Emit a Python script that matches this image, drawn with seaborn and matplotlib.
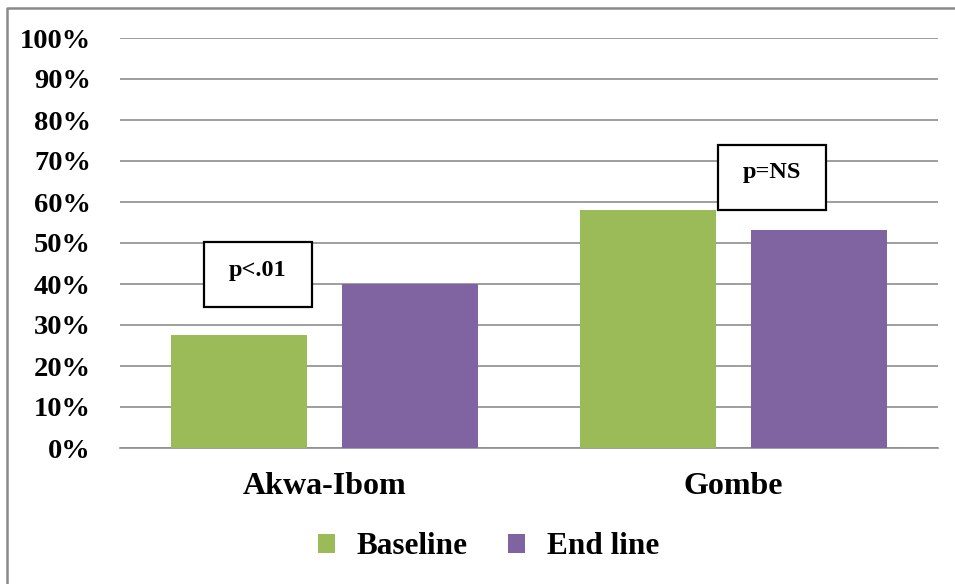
import matplotlib
matplotlib.use("Agg")
import matplotlib.pyplot as plt
from matplotlib.lines import Line2D
from matplotlib.patches import Rectangle
import seaborn as sns
import pandas as pd

# Proportions by state, before and after the intervention
regions = ["Akwa-Ibom", "Gombe"]
series_names = ["Baseline", "End line"]
baseline = [0.275, 0.58]
endline = [0.40, 0.532]
p_labels = ["p<.01", "p=NS"]
ytick_values = [i / 10 for i in range(11)]
ytick_labels = [f"{i * 10}%" for i in range(11)]

colors = ["#9BBB59", "#8064A2"]
grid_color = "#8E8E8E"

sns.set_theme(style="white")
plt.rcParams["font.family"] = ["Liberation Serif", "DejaVu Serif"]
plt.rcParams["font.weight"] = "bold"
plt.rcParams["text.color"] = "black"

df = pd.DataFrame({
    "region": regions * 2,
    "series": [series_names[0]] * len(regions) + [series_names[1]] * len(regions),
    "value": baseline + endline,
})

W, H = 955, 584
fig = plt.figure(figsize=(W / 100, H / 100), dpi=100)
ax = fig.add_axes([120 / W, 136 / H, 818 / W, 410 / H])

sns.barplot(data=df, x="region", y="value", hue="series", hue_order=series_names,
            palette=colors, saturation=1, width=0.836, gap=0.2,
            linewidth=0, ax=ax, zorder=3, errorbar=None)

ax.set_xlim(-0.5, 1.5)
ax.set_ylim(0, 1)
ax.set_yticks(ytick_values)
ax.set_yticklabels(ytick_labels)
ax.set_xlabel("")
ax.set_ylabel("")
ax.yaxis.grid(True, color=grid_color, linewidth=1.2, zorder=0)
ax.set_axisbelow(True)
for side in ["top", "right", "left"]:
    ax.spines[side].set_visible(False)
ax.spines["bottom"].set_color(grid_color)
ax.spines["bottom"].set_linewidth(1.2)
ax.tick_params(axis="y", length=0, pad=21, labelsize=20.5)
ax.tick_params(axis="x", length=0, pad=17, labelsize=23)
for lbl in ax.get_xticklabels() + ax.get_yticklabels():
    lbl.set_fontweight("bold")
    lbl.set_color("black")

# significance boxes: (x0, x1, y0, y1) and text centre (x, y)
boxes = [(-0.2946, -0.0306, 0.344, 0.502), (0.962, 1.226, 0.580, 0.739)]
text_pos = [(-0.1626, 0.434), (1.094, 0.672)]
for (x0, x1, y0, y1), (tx, ty), lab in zip(boxes, text_pos, p_labels):
    ax.add_patch(Rectangle((x0, y0), x1 - x0, y1 - y0, facecolor="white",
                           edgecolor="black", linewidth=1.6, zorder=5))
    ax.text(tx, ty, lab, ha="center", va="center", fontsize=17.5,
            fontweight="bold", color="black", zorder=6)

sns.move_legend(ax, "center", bbox_to_anchor=(488.5 / W, 37 / H),
                bbox_transform=fig.transFigure, ncol=2, frameon=False,
                title=None, prop={"size": 22.5, "weight": "bold"},
                handlelength=0.55, handleheight=0.55, handletextpad=0.7,
                columnspacing=1.3)
for t in ax.get_legend().get_texts():
    t.set_color("black")

# chart frame
fig.add_artist(Line2D([1, 6.5 / W, 6.5 / W], [1 - 7.5 / H, 1 - 7.5 / H, 0],
                      transform=fig.transFigure, color="#8A8A8A", linewidth=1.8))

fig.savefig("out.png", dpi=100)
